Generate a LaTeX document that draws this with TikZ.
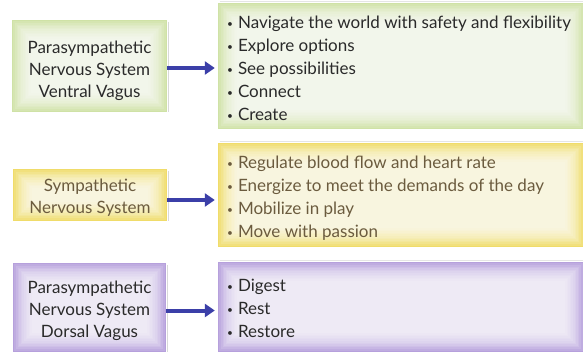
\documentclass[tikz,border=0pt]{standalone}
\usepackage{fontspec}
\setmainfont{Lato}
\usetikzlibrary{calc,backgrounds,arrows.meta}

\definecolor{gEdge}{HTML}{CFE2A6}
\definecolor{yEdge}{HTML}{F0DC6A}
\definecolor{pEdge}{HTML}{B6A0DC}
\definecolor{arrowblue}{HTML}{3B3FA8}
\definecolor{ytext}{HTML}{6B5B3E}
\definecolor{darktext}{HTML}{2A2A2A}

\newcommand\bul{\raisebox{0.1ex}{\scalebox{0.6}{\textbullet}}\hspace{0.3em}}

% soft inner glow: edge colour fading to white towards the middle
\newcommand\glowbox[2]{%
  \fill[#2] (#1.south west) rectangle (#1.north east);
  \foreach \k in {1,...,12}{%
    \fill[white,opacity=0.13] ($(#1.south west)+(\k*1.6pt,\k*1.6pt)$)
      rectangle ($(#1.north east)-(\k*1.6pt,\k*1.6pt)$);}%
}

\tikzset{
  panel/.style={inner sep=0pt},
  lefttext/.style={align=center, font=\fontsize{17}{22}\selectfont, text=darktext},
  listtext/.style={align=left, anchor=west, inner sep=0pt, font=\fontsize{17}{23}\selectfont, text=darktext},
  link/.style={draw=arrowblue, line width=4pt, -{Triangle[length=10pt,width=13pt]}, shorten >=3pt},
  shadowline/.style={draw=black!15, line width=1.2pt}
}

\begin{document}
\begin{tikzpicture}[x=1pt,y=-1pt]
\useasboundingbox (0,0) rectangle (583,354);

% left panels
\node[panel, minimum width=155pt, minimum height=92pt] (L1) at (89.5,66) {};
\node[panel, minimum width=154pt, minimum height=52pt] (L2) at (90,195) {};
\node[panel, minimum width=153pt, minimum height=89pt] (L3) at (89.5,307.5) {};

% right panels
\node[panel, minimum width=366pt, minimum height=126pt] (R1) at (401,66) {};
\node[panel, minimum width=366pt, minimum height=104pt] (R2) at (401,195) {};
\node[panel, minimum width=366pt, minimum height=90pt] (R3) at (401,307) {};

\begin{pgfonlayer}{background}
  \fill[white] (0,0) rectangle (583,354);
  \foreach \n in {L1,L2,L3}{\draw[shadowline] ($(\n.north east)+(1pt,-2pt)$) -- ($(\n.south east)+(1pt,0)$);}
  \foreach \n in {R1,R2,R3}{\draw[shadowline,draw=black!10] ($(\n.north west)+(2pt,1pt)$) -- ($(\n.north east)+(0,1pt)$);}
  \glowbox{L1}{gEdge}
  \glowbox{R1}{gEdge}
  \glowbox{L2}{yEdge}
  \glowbox{R2}{yEdge}
  \glowbox{L3}{pEdge}
  \glowbox{R3}{pEdge}
\end{pgfonlayer}

% labels
\node[lefttext] (A1) at ($(L1.center)+(0,-4.5pt)$) {Parasympathetic\\Nervous System\\Ventral Vagus};
\node[lefttext, text=ytext] (A2) at ($(L2.center)+(0,-2.5pt)$) {Sympathetic\\Nervous System};
\node[lefttext] (A3) at ($(L3.center)+(0,-3pt)$) {Parasympathetic\\Nervous System\\Dorsal Vagus};

\node[listtext] (B1) at ($(R1.west)+(9pt,-2pt)$) {\bul Navigate the world with safety and flexibility\\
  \bul Explore options\\ \bul See possibilities\\ \bul Connect\\ \bul Create};
\node[listtext, text=ytext] (B2) at ($(R2.west)+(9pt,-3pt)$) {\bul Regulate blood flow and heart rate\\
  \bul Energize to meet the demands of the day\\ \bul Mobilize in play\\ \bul Move with passion};
\node[listtext] (B3) at ($(R3.west)+(9pt,-1pt)$) {\bul Digest\\ \bul Rest\\ \bul Restore};

% connectors
\draw[link] ($(L1.east)+(0,-2pt)$) -- ($(L1.east -| R1.west)+(0,-2pt)$);
\draw[link] ($(L2.east)+(0,-5pt)$) -- ($(L2.east -| R2.west)+(0,-5pt)$);
\draw[link] ($(L3.east)+(0,-3pt)$) -- ($(L3.east -| R3.west)+(0,-3pt)$);
\end{tikzpicture}
\end{document}
